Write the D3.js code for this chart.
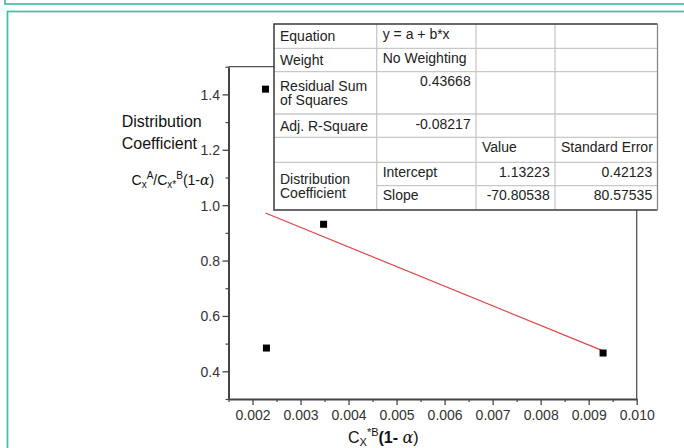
<!DOCTYPE html>
<html>
<head>
<meta charset="utf-8">
<script src="https://cdn.jsdelivr.net/npm/d3@7"></script>
<style>
  body { margin: 0; background: #fff; }
  svg { display: block; font-family: "Liberation Sans", Arial, sans-serif; }
  .tick text { font-size: 14px; fill: #333; }
</style>
</head>
<body>
<svg id="chart" width="684" height="448"></svg>
<script>
const xVals = [0.00227, 0.00229, 0.00348, 0.00930];
const yVals = [1.419, 0.484, 0.931, 0.466];

// linear fit reported in the table
const fitIntercept = 1.13223;
const fitSlope = -70.80538;

const xTicks = [0.002, 0.003, 0.004, 0.005, 0.006, 0.007, 0.008, 0.009, 0.010];
const xMinor = [0.0015, 0.0025, 0.0035, 0.0045, 0.0055, 0.0065, 0.0075, 0.0085, 0.0095];
const yTicks = [0.4, 0.6, 0.8, 1.0, 1.2, 1.4];
const yMinor = [0.3, 0.5, 0.7, 0.9, 1.1, 1.3, 1.5];

// fit results table, row by row
const tableRows = [
  ["Equation", "y = a + b*x", "", ""],
  ["Weight", "No Weighting", "", ""],
  ["Residual Sum\nof Squares", "0.43668", "", ""],
  ["Adj. R-Square", "-0.08217", "", ""],
  ["", "", "Value", "Standard Error"],
  ["Distribution\nCoefficient", "Intercept", "1.13223", "0.42123"],
  ["", "Slope", "-70.80538", "80.57535"]
];

const svg = d3.select("#chart");

// teal panel frames behind the chart
svg.append("rect").attr("x", 5).attr("y", -10).attr("width", 700).attr("height", 14)
  .attr("fill", "none").attr("stroke", "#3cc0a6").attr("stroke-width", 1.7);
svg.append("rect").attr("x", 7.5).attr("y", 11.5).attr("width", 700).attr("height", 460)
  .attr("fill", "none").attr("stroke", "#3cc0a6").attr("stroke-width", 1.7);

const plot = { left: 228.5, right: 636.7, top: 66.7, bottom: 399 };

const x = d3.scaleLinear().domain([0.0015, 0.010]).range([plot.left, plot.right]);
const y = d3.scaleLinear().domain([0.3, 1.5]).range([plot.bottom, plot.top]);

// top and right frame
svg.append("path")
  .attr("d", `M${plot.left},${plot.top}H${plot.right}V${plot.bottom}`)
  .attr("fill", "none").attr("stroke", "#555").attr("stroke-width", 1.3);

// minor ticks
svg.append("g").attr("transform", `translate(0,${plot.bottom})`)
  .call(d3.axisBottom(x).tickValues(xMinor).tickSize(3).tickFormat(""))
  .call(g => g.select(".domain").remove())
  .selectAll("line").attr("stroke", "#444").attr("stroke-width", 1.2);
svg.append("g").attr("transform", `translate(${plot.left},0)`)
  .call(d3.axisLeft(y).tickValues(yMinor).tickSize(3).tickFormat(""))
  .call(g => g.select(".domain").remove())
  .selectAll("line").attr("stroke", "#444").attr("stroke-width", 1.2);

// major axes
const xAxisG = svg.append("g").attr("transform", `translate(0,${plot.bottom})`)
  .call(d3.axisBottom(x).tickValues(xTicks).tickSize(6).tickSizeOuter(0).tickPadding(5)
    .tickFormat(d3.format(".3f")));
const yAxisG = svg.append("g").attr("transform", `translate(${plot.left},0)`)
  .call(d3.axisLeft(y).tickValues(yTicks).tickSize(6).tickSizeOuter(0).tickPadding(2.5)
    .tickFormat(d3.format(".1f")));
[xAxisG, yAxisG].forEach(g => {
  g.attr("font-family", null).attr("font-size", null);
  g.select(".domain").attr("stroke", "#444").attr("stroke-width", 2);
  g.selectAll(".tick line").attr("stroke", "#444").attr("stroke-width", 1.3);
});
yAxisG.selectAll(".tick text").attr("dy", "0.36em");

// fitted line across the data range
const xExt = d3.extent(xVals);
svg.append("line")
  .attr("x1", x(xExt[0])).attr("y1", y(fitIntercept + fitSlope * xExt[0]))
  .attr("x2", x(xExt[1])).attr("y2", y(fitIntercept + fitSlope * xExt[1]))
  .attr("stroke", "#e04545").attr("stroke-width", 1.2);

// data points
svg.selectAll("rect.pt").data(d3.range(xVals.length)).enter().append("rect")
  .attr("class", "pt")
  .attr("x", i => x(xVals[i]) - 3.5).attr("y", i => y(yVals[i]) - 3.5)
  .attr("width", 7).attr("height", 7).attr("fill", "#000");

// table
const colX = [274, 376.7, 476, 555, 657.5];
const rowY = [24, 48.3, 71.7, 114, 137.3, 162.3, 185.7, 210];
const tbl = svg.append("g");
tbl.append("rect").attr("x", colX[0]).attr("y", rowY[0])
  .attr("width", colX[4] - colX[0]).attr("height", rowY[7] - rowY[0]).attr("fill", "#fff");

// inner grid
const grid = tbl.append("g").attr("stroke", "#c8c8c8").attr("stroke-width", 1.3);
rowY.slice(1, -1).forEach((ry, i) => {
  const startCol = (i + 1 === 6) ? 1 : 0; // merged cell in first column
  grid.append("line").attr("x1", colX[startCol]).attr("x2", colX[4]).attr("y1", ry).attr("y2", ry);
});
colX.slice(1, -1).forEach(cx => {
  grid.append("line").attr("x1", cx).attr("x2", cx).attr("y1", rowY[0]).attr("y2", rowY[7]);
});
// outer border
tbl.append("path")
  .attr("d", `M${colX[4]},${rowY[0]}H${colX[0]}V${rowY[7]}H${colX[4]}`)
  .attr("fill", "none").attr("stroke", "#3a3a3a").attr("stroke-width", 1.5);
tbl.append("line").attr("x1", colX[4]).attr("x2", colX[4]).attr("y1", rowY[0]).attr("y2", rowY[7])
  .attr("stroke", "#888").attr("stroke-width", 1.3);

const isNum = s => s !== "" && !isNaN(+s);
tableRows.forEach((row, r) => {
  row.forEach((txt, c) => {
    if (!txt) return;
    const lines = txt.split("\n");
    let top = rowY[r], bottom = rowY[r + 1];
    if (c === 0 && r === 5) bottom = rowY[7];
    let base;
    if (c === 0) {
      const mid = (top + bottom) / 2;
      base = mid - (lines.length - 1) * 7.3 + 5;
    } else {
      base = top + 14.6;
    }
    const right = isNum(txt);
    const t = tbl.append("text")
      .attr("font-size", 14).attr("fill", "#222")
      .attr("text-anchor", right ? "end" : "start");
    lines.forEach((ln, k) => {
      t.append("tspan")
        .attr("x", right ? colX[c + 1] - 5.3 : colX[c] + 6)
        .attr("y", base + k * 14.6)
        .text(ln);
    });
  });
});

// y axis title
const yTitle = svg.append("g").attr("fill", "#111");
yTitle.append("text").attr("x", 121.7).attr("y", 126.7).attr("font-size", 16).text("Distribution");
yTitle.append("text").attr("x", 121.7).attr("y", 149.3).attr("font-size", 16).text("Coefficient");
const yl = yTitle.append("text").attr("x", 131.5).attr("y", 185).attr("font-size", 14);
yl.append("tspan").text("C");
yl.append("tspan").attr("font-size", 10).attr("dy", 3).text("x");
yl.append("tspan").attr("font-size", 10).attr("dy", -9).text("A");
yl.append("tspan").attr("dy", 6).text("/C");
yl.append("tspan").attr("font-size", 10).attr("dy", 3).text("x*");
yl.append("tspan").attr("font-size", 10).attr("dy", -9).text("B");
yl.append("tspan").attr("dy", 6).text("(1-");
yl.append("tspan").attr("font-style", "italic").attr("font-family", "DejaVu Serif").text("α");
yl.append("tspan").text(")");

// x axis title
const xl = svg.append("text").attr("x", 348).attr("y", 443.3).attr("font-size", 16).attr("fill", "#111");
xl.append("tspan").text("C");
xl.append("tspan").attr("font-size", 11).attr("dy", 3).text("X");
xl.append("tspan").attr("font-size", 11).attr("dy", -10).text("*B");
xl.append("tspan").attr("dy", 7).attr("font-weight", "bold").text("(1- ");
xl.append("tspan").attr("font-style", "italic").attr("font-family", "DejaVu Serif").text("α");
xl.append("tspan").text(")");
</script>
</body>
</html>
